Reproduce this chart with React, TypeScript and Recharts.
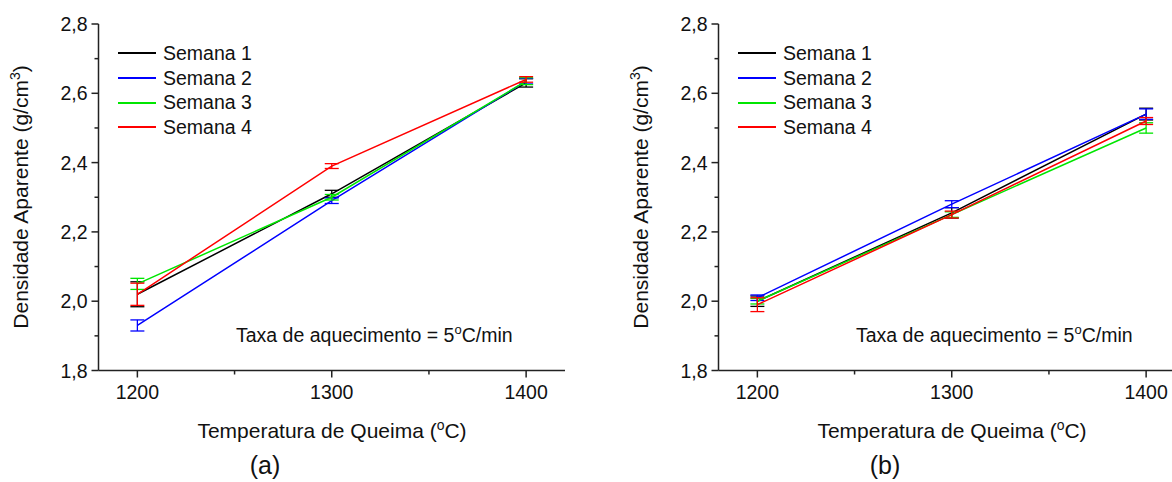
import { LineChart, Line, XAxis, YAxis, ErrorBar, Legend } from "recharts";

const temperaturas = [1200, 1300, 1400];
const semanas = ["Semana 1", "Semana 2", "Semana 3", "Semana 4"];
const cores = ["#000000", "#0000ff", "#00e600", "#ff0000"];

// painel (a)
const semana1A = [2.02, 2.31, 2.63];
const semana2A = [1.93, 2.29, 2.635];
const semana3A = [2.05, 2.3, 2.635];
const semana4A = [2.02, 2.39, 2.64];
const erro1A = [0.036, 0.01, 0.012];
const erro2A = [0.016, 0.008, 0.008];
const erro3A = [0.016, 0.008, 0.01];
const erro4A = [0.032, 0.007, 0.008];

// painel (b)
const semana1B = [2.0, 2.255, 2.54];
const semana2B = [2.01, 2.28, 2.54];
const semana3B = [2.0, 2.25, 2.5];
const semana4B = [1.99, 2.25, 2.52];
const erro1B = [0.015, 0.015, 0.017];
const erro2B = [0.008, 0.01, 0.015];
const erro3B = [0.008, 0.008, 0.015];
const erro4B = [0.02, 0.01, 0.01];

const xTicks = [1200, 1250, 1300, 1350, 1400];
const yTicks = [1.8, 1.9, 2.0, 2.1, 2.2, 2.3, 2.4, 2.5, 2.6, 2.7, 2.8];

const FONT = '"Liberation Sans", Arial, sans-serif';
const AXIS = "#222";

const montar = (valores: number[][], erros: number[][]) =>
  temperaturas.map((t, i) => {
    const row: Record<string, number> = { t };
    valores.forEach((v, k) => {
      row[`s${k}`] = v[i];
      row[`e${k}`] = erros[k][i];
    });
    return row;
  });

const dadosA = montar([semana1A, semana2A, semana3A, semana4A], [erro1A, erro2A, erro3A, erro4A]);
const dadosB = montar([semana1B, semana2B, semana3B, semana4B], [erro1B, erro2B, erro3B, erro4B]);

const YTick = ({ x, y, payload }: any) => {
  const v = payload.value as number;
  const major = Math.round(v * 10) % 2 === 0;
  return (
    <g>
      <line x1={x - (major ? 7 : 4)} x2={x} y1={y} y2={y} stroke={AXIS} strokeWidth={1.5} />
      {major && (
        <text x={x - 11} y={y} dy="0.36em" textAnchor="end" fontSize={19.5} fontFamily={FONT} fill="#111">
          {v.toFixed(1).replace(".", ",")}
        </text>
      )}
    </g>
  );
};

const XTick = ({ x, y, payload }: any) => {
  const v = payload.value as number;
  const major = v % 100 === 0;
  return (
    <g>
      <line x1={x} x2={x} y1={y} y2={y + (major ? 7 : 4)} stroke={AXIS} strokeWidth={1.5} />
      {major && (
        <text x={x} y={y + 28} textAnchor="middle" fontSize={19.5} fontFamily={FONT} fill="#111">
          {v}
        </text>
      )}
    </g>
  );
};

const Legenda = () => (
  <div style={{ fontFamily: FONT, fontSize: 19.5, color: "#111" }}>
    {semanas.map((s, k) => (
      <div key={s} style={{ display: "flex", alignItems: "center", height: 24.7 }}>
        <div style={{ width: 38, height: 2, background: cores[k], marginRight: 7 }} />
        <span>{s}</span>
      </div>
    ))}
  </div>
);

function Painel({ dados, left, letra }: { dados: Record<string, number>[]; left: number; letra: string }) {
  return (
    <div style={{ position: "absolute", left, top: 0, width: 600, height: 482 }}>
      <LineChart width={600} height={482} data={dados} margin={{ top: 24, right: 35, bottom: 0, left: 0 }}>
        <XAxis
          dataKey="t"
          type="number"
          domain={[1180, 1420]}
          ticks={xTicks}
          tick={<XTick />}
          tickLine={false}
          tickSize={0}
          tickMargin={0}
          height={111.5}
          axisLine={{ stroke: AXIS, strokeWidth: 1.5 }}
          interval={0}
        />
        <XAxis
          xAxisId="top"
          orientation="top"
          type="number"
          domain={[1180, 1420]}
          tick={false}
          tickLine={false}
          height={0}
          axisLine={{ stroke: AXIS, strokeWidth: 1.5 }}
        />
        <YAxis
          type="number"
          domain={[1.8, 2.8]}
          ticks={yTicks}
          tick={<YTick />}
          tickLine={false}
          tickSize={0}
          tickMargin={0}
          width={98.5}
          allowDataOverflow
          axisLine={{ stroke: AXIS, strokeWidth: 1.5 }}
          interval={0}
        />
        <YAxis
          yAxisId="right"
          orientation="right"
          type="number"
          domain={[1.8, 2.8]}
          tick={false}
          tickLine={false}
          width={0}
          axisLine={{ stroke: AXIS, strokeWidth: 1.5 }}
        />
        <Legend
          layout="vertical"
          align="center"
          verticalAlign="middle"
          content={<Legenda />}
          wrapperStyle={{ left: 118, top: 41, width: 200, height: 100 }}
        />
        {semanas.map((s, k) => (
          <Line
            key={s}
            name={s}
            dataKey={`s${k}`}
            stroke={cores[k]}
            strokeWidth={1.5}
            dot={false}
            isAnimationActive={false}
          >
            <ErrorBar dataKey={`e${k}`} direction="y" width={7} stroke={cores[k]} strokeWidth={1.3} isAnimationActive={false} />
          </Line>
        ))}
      </LineChart>
      <svg width={600} height={482} style={{ position: "absolute", left: 0, top: 0, pointerEvents: "none" }} fontFamily={FONT} fill="#111">
        <text transform="translate(20,197) rotate(-90)" textAnchor="middle" dy="0.36em" fontSize={21}>
          Densidade Aparente (g/cm<tspan dy={-8} fontSize={14}>3</tspan><tspan dy={8}>)</tspan>
        </text>
        <text x={332} y={438} textAnchor="middle" fontSize={21}>
          Temperatura de Queima (<tspan dy={-8} fontSize={14}>o</tspan><tspan dy={8}>C)</tspan>
        </text>
        <text x={236} y={342} fontSize={19.5}>
          Taxa de aquecimento = 5<tspan dy={-8} fontSize={13}>o</tspan><tspan dy={8}>C/min</tspan>
        </text>
        <text x={265} y={474} textAnchor="middle" fontSize={25}>
          {letra}
        </text>
      </svg>
    </div>
  );
}

export default function App() {
  return (
    <div style={{ position: "absolute", left: 0, top: 0, width: 1172, height: 482, overflow: "hidden", background: "#fff" }}>
      <Painel dados={dadosA} left={0} letra="(a)" />
      <Painel dados={dadosB} left={620} letra="(b)" />
    </div>
  );
}
